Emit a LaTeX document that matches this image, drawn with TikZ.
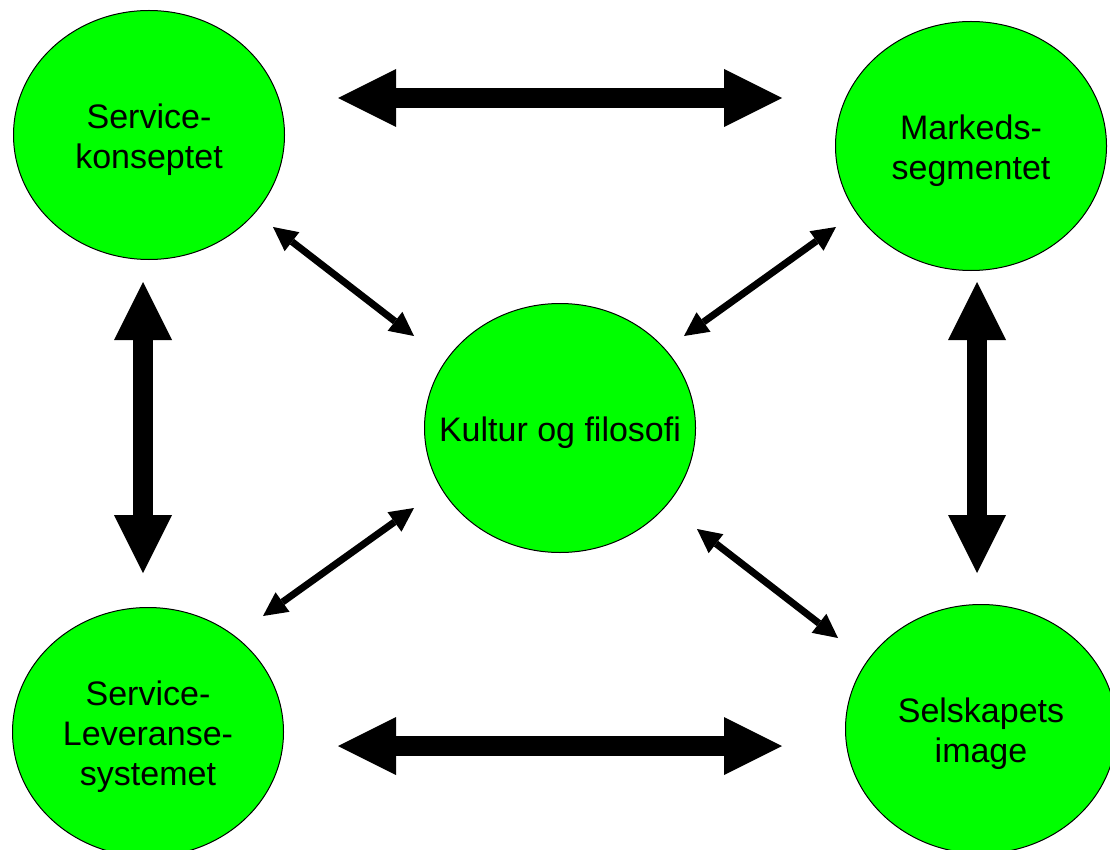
\documentclass[tikz,border=0pt]{standalone}
\usepackage{fontspec}
\setmainfont{Liberation Sans}
\usetikzlibrary{shapes.geometric,arrows.meta}
\definecolor{leafgreen}{RGB}{0,255,0}
\tikzset{
  bubble/.style={ellipse, draw=black, line width=1pt, fill=leafgreen,
    inner sep=0pt, minimum width=271pt, minimum height=249pt},
  bubbletext/.style={align=center, inner sep=0pt, yshift=-5pt,
    font=\fontsize{34}{40}\selectfont},
  bigtip/.tip={Triangle[length=58pt,width=58pt,line width=0pt]},
  smalltip/.tip={Triangle[length=24pt,width=24pt,line width=0pt]},
  bigarrow/.style={line width=20pt, bigtip-bigtip},
  smallarrow/.style={line width=7pt, smalltip-smalltip},
}
\begin{document}
\begin{tikzpicture}[x=1pt,y=-1pt]
  \useasboundingbox (0,0) rectangle (1110,850);

  % the five themes, each an ellipse with its label centred inside
  \node[bubble, label={[bubbletext]center:{Service-\\konseptet}}]
    (concept) at (149,135) {};
  \node[bubble, label={[bubbletext]center:{Markeds-\\segmentet}}]
    (market) at (971,146) {};
  \node[bubble, label={[bubbletext]center:{Kultur og filosofi}}]
    (culture) at (560,428) {};
  \node[bubble, label={[bubbletext]center:{Service-\\Leveranse-\\systemet}}]
    (delivery) at (148,732) {};
  \node[bubble, label={[bubbletext]center:{Selskapets\\image}}]
    (image) at (981,729) {};

  % end points of the arrows
  \coordinate (topL) at (338,98);   \coordinate (topR) at (782,98);
  \coordinate (botL) at (338,746);  \coordinate (botR) at (782,746);
  \coordinate (lefT) at (143,282);  \coordinate (lefB) at (143,573);
  \coordinate (rigT) at (977,282);  \coordinate (rigB) at (977,573);
  \coordinate (dTLa) at (273,227);  \coordinate (dTLb) at (414,336);
  \coordinate (dTRa) at (836,227);  \coordinate (dTRb) at (684,336);
  \coordinate (dBLa) at (414,508);  \coordinate (dBLb) at (263,616);
  \coordinate (dBRa) at (697,529);  \coordinate (dBRb) at (838,638);

  % heavy arrows between the outer themes
  \draw[bigarrow] (topL) -- (topR);
  \draw[bigarrow] (botL) -- (botR);
  \draw[bigarrow] (lefT) -- (lefB);
  \draw[bigarrow] (rigT) -- (rigB);

  % light arrows to and from the centre
  \draw[smallarrow] (dTLa) -- (dTLb);
  \draw[smallarrow] (dTRa) -- (dTRb);
  \draw[smallarrow] (dBLa) -- (dBLb);
  \draw[smallarrow] (dBRa) -- (dBRb);
\end{tikzpicture}
\end{document}
